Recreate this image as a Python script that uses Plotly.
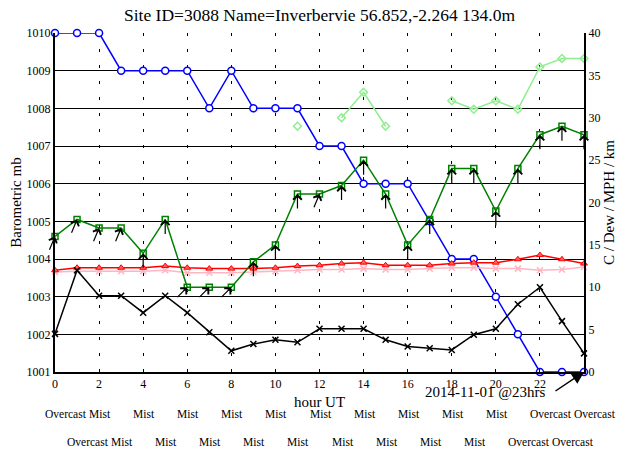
import math
import plotly.graph_objects as go

# ---------------- data ----------------
hours = list(range(25))
pressure_mb = [1010, 1010, 1010, 1009, 1009, 1009, 1009, 1008, 1009, 1008, 1008, 1008, 1007,
               1007, 1006, 1006, 1006, 1005, 1004, 1004, 1003, 1002, 1001, 1001, 1001]
wind_mph = [16, 18, 17, 17, 14, 18, 10, 10, 10, 13, 15, 21, 21, 22, 25, 21, 15, 18, 24, 24,
            19, 24, 28, 29, 28]
wind_dir_deg = [202.5, 202.5, 202.5, 202.5, 180, 180, 225, 225, 225, 180, 180, 180, 202.5,
                180, 180, 180, 180, 180, 180, 180, 180, 180, 180, 180, 180]
gust_mph = [None] * 11 + [29, None, 30, 33, 29, None, None, 32, 31, 32, 31, 36, 37, 37]
temp_c = [12.0, 12.3, 12.3, 12.3, 12.3, 12.5, 12.3, 12.2, 12.2, 12.2, 12.3, 12.5, 12.6, 12.8,
          12.9, 12.6, 12.6, 12.6, 12.8, 12.9, 12.9, 13.3, 13.8, 13.3, 12.8]
dew_c = [11.8, 11.9, 11.9, 11.9, 11.9, 12.0, 11.7, 11.7, 11.7, 11.8, 11.9, 12.0, 12.1, 12.1,
         12.2, 12.1, 12.1, 12.2, 12.3, 12.3, 12.2, 12.2, 12.0, 12.1, 12.4]
visibility_km = [4.5, 12.0, 9.0, 9.0, 7.0, 9.0, 7.0, 4.7, 2.5, 3.3, 3.8, 3.5, 5.1, 5.1, 5.1,
                 3.8, 3.0, 2.8, 2.6, 4.4, 5.1, 8.0, 10.0, 6.0, 2.2]
weather = ["Overcast", "Overcast"] + ["Mist"] * 19 + ["Overcast"] * 4
x_tick_vals = list(range(0, 23, 2))
title_text = "Site ID=3088 Name=Inverbervie 56.852,-2.264 134.0m"
stamp_text = "2014-11-01 @23hrs"

FONT = "Liberation Serif"
# the page body has an 8px margin, so the figure is sized to fit the 624x450 window
W, H = 616, 442

fig = go.Figure()

fig.add_trace(go.Scatter(
    x=hours, y=pressure_mb, mode="lines+markers", yaxis="y",
    line=dict(color="#0000ff", width=1.5),
    marker=dict(symbol="circle", size=7, color="white", line=dict(color="#0000ff", width=1.5)),
    cliponaxis=False, showlegend=False))

fig.add_trace(go.Scatter(
    x=hours, y=gust_mph, mode="lines+markers", yaxis="y2", connectgaps=False,
    line=dict(color="#90ee90", width=1.5),
    marker=dict(symbol="diamond-open", size=6, color="#90ee90", line=dict(width=1.5)),
    cliponaxis=False, showlegend=False))

fig.add_trace(go.Scatter(
    x=hours, y=dew_c, mode="lines+markers", yaxis="y2",
    line=dict(color="#ffb6c1", width=1.5),
    marker=dict(symbol="x-thin", size=6, color="#ffb6c1", line=dict(color="#ffb6c1", width=1.5)),
    cliponaxis=False, showlegend=False))

fig.add_trace(go.Scatter(
    x=hours, y=temp_c, mode="lines+markers", yaxis="y2",
    line=dict(color="#ff0000", width=1.5),
    marker=dict(symbol="triangle-up", size=6, color="#ff6060", line=dict(color="#ff0000", width=1)),
    cliponaxis=False, showlegend=False))

fig.add_trace(go.Scatter(
    x=hours, y=visibility_km, mode="lines+markers", yaxis="y2",
    line=dict(color="black", width=1.5),
    marker=dict(symbol="x-thin", size=6, color="black", line=dict(color="black", width=1.5)),
    cliponaxis=False, showlegend=False))

fig.add_trace(go.Scatter(
    x=hours, y=wind_mph, mode="lines+markers", yaxis="y2",
    line=dict(color="#008000", width=1.5),
    marker=dict(symbol="square-open", size=6, color="#008000", line=dict(width=1.5)),
    cliponaxis=False, showlegend=False))

annotations = []
# wind direction arrows (pointing the way the wind blows)
L = 16
for h, spd, d in zip(hours, wind_mph, wind_dir_deg):
    th = math.radians(d - 180)
    annotations.append(dict(
        x=h, y=spd, xref="x", yref="y2", text="", showarrow=True,
        ax=-L * math.sin(th), ay=L * math.cos(th), axref="pixel", ayref="pixel",
        arrowhead=4, arrowsize=1.4, arrowwidth=1.2, arrowcolor="black", standoff=0))

# weather rows
for h, w in zip(hours, weather):
    row = h % 2
    annotations.append(dict(
        x=h, y=0, xref="x", yref="paper", text=w, showarrow=False,
        xanchor="left", yanchor="middle", xshift=-12, yshift=-42 if row == 0 else -70,
        font=dict(family=FONT, size=11.5, color="black")))

# timestamp label and arrow to last point
annotations.append(dict(
    x=hours[-1], y=pressure_mb[-1], xref="x", yref="y", text=stamp_text, showarrow=False,
    xanchor="center", yanchor="middle", xshift=-99, yshift=-20,
    font=dict(family=FONT, size=15, color="black")))
annotations.append(dict(
    x=hours[-1], y=pressure_mb[-1], xref="x", yref="y", text="", showarrow=True,
    ax=-30, ay=20, axref="pixel", ayref="pixel",
    arrowhead=2, arrowsize=1.6, arrowwidth=1.5, arrowcolor="black", standoff=0))

fig.update_layout(
    width=W, height=H,
    margin=dict(l=47, r=40, t=25, b=78, autoexpand=False),
    plot_bgcolor="white", paper_bgcolor="white",
    font=dict(family=FONT, color="black", size=12),
    title=dict(text=title_text, x=0.5, xref="paper", xanchor="center",
               y=1 - 7 / H, yref="container", yanchor="middle",
               font=dict(family=FONT, size=17.5, color="black")),
    xaxis=dict(range=[0, 24], tickvals=x_tick_vals, showgrid=True, gridcolor="black",
               gridwidth=1, griddash="3px,13px", showline=True, linecolor="black",
               linewidth=2, ticks="inside", ticklen=3, tickcolor="black", zeroline=False,
               tickfont=dict(size=12), automargin=False,
               title=dict(text="hour UT", font=dict(size=15), standoff=6)),
    yaxis=dict(range=[1001, 1010], tick0=1001, dtick=1, showgrid=True, gridcolor="black",
               gridwidth=1, showline=True, linecolor="black", linewidth=2, zeroline=False,
               ticks="", tickfont=dict(size=12), automargin=False,
               title=dict(text="Barometric mb", font=dict(size=15), standoff=7)),
    yaxis2=dict(range=[0, 40], dtick=5, overlaying="y", side="right", showgrid=False,
                showline=True, linecolor="black", linewidth=2, zeroline=False, ticks="",
                tickfont=dict(size=12), automargin=False,
                title=dict(text="C / Dew / MPH / km", font=dict(size=15), standoff=4)),
    annotations=annotations,
)

fig.write_html("out.html")
